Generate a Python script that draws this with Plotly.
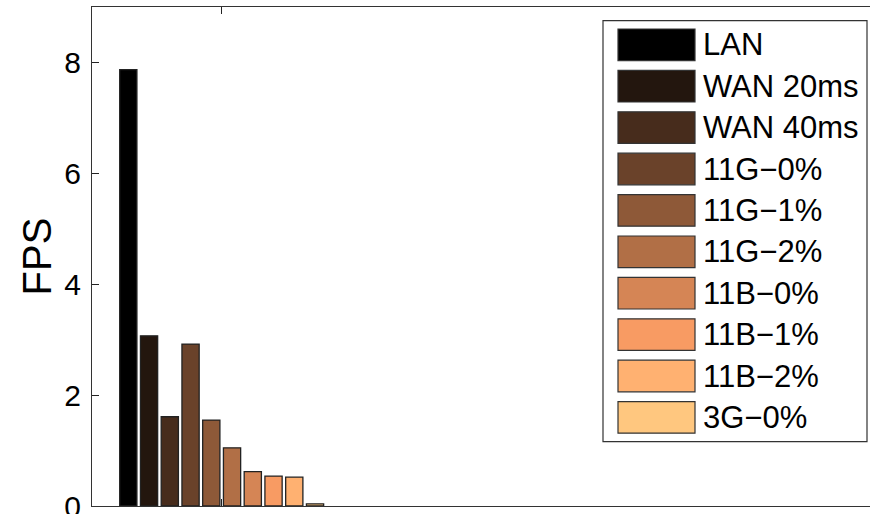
import plotly.graph_objects as go

# ---- data ----
series_names = ["LAN", "WAN 20ms", "WAN 40ms", "11G\u22120%", "11G\u22121%",
                "11G\u22122%", "11B\u22120%", "11B\u22121%", "11B\u22122%", "3G\u22120%"]
fps_values = [7.87, 3.07, 1.61, 2.92, 1.55, 1.05, 0.62, 0.54, 0.52, 0.04]
group_x = [1]
y_ticks = [0, 2, 4, 6, 8]

# MATLAB copper colormap, 10 entries
copper_colors = ["rgb(0,0,0)", "rgb(35,22,14)", "rgb(71,44,28)", "rgb(106,66,42)",
                 "rgb(142,89,56)", "rgb(177,111,70)", "rgb(213,133,85)",
                 "rgb(248,155,99)", "rgb(255,177,113)", "rgb(255,199,127)"]

FONT = "Liberation Sans, Arial, Helvetica, sans-serif"
W, H = 870, 514
ML, MR, MT, MB = 92, 0, 7, 8
PW, PH = W - ML - MR, H - MT - MB


def px_x(p):
    return (p - ML) / PW


def px_y(p):
    return (H - MB - p) / PH


fig = go.Figure()
for name, val, col in zip(series_names, fps_values, copper_colors):
    fig.add_trace(go.Bar(
        x=group_x, y=[val], name=name,
        marker=dict(color=col, line=dict(color="#222222", width=1.3)),
        showlegend=False,
    ))

# custom MATLAB-style legend (large swatches)
shapes = [dict(type="rect", xref="paper", yref="paper",
               x0=px_x(603), x1=px_x(867), y0=px_y(441.7), y1=px_y(20.7),
               line=dict(color="#333333", width=1.2), fillcolor="white", layer="above")]
annotations = []
for i, (name, col) in enumerate(zip(series_names, copper_colors)):
    top = 29 + 41.4 * i
    bot = top + 31.6
    shapes.append(dict(type="rect", xref="paper", yref="paper",
                       x0=px_x(618), x1=px_x(695), y0=px_y(bot), y1=px_y(top),
                       line=dict(color="#333333", width=1.2), fillcolor=col, layer="above"))
    annotations.append(dict(xref="paper", yref="paper", x=px_x(701), y=px_y((top + bot) / 2),
                            text=name, showarrow=False, xanchor="left", yanchor="middle",
                            font=dict(family=FONT, size=31, color="black")))

fig.update_layout(
    width=W, height=H,
    margin=dict(l=ML, r=MR, t=MT, b=MB, autoexpand=False),
    paper_bgcolor="white", plot_bgcolor="white",
    barmode="group", bargap=0.2, bargroupgap=0.17,
    font=dict(family=FONT, size=30, color="black"),
    shapes=shapes, annotations=annotations,
    xaxis=dict(range=[0.5, 3.5], tickvals=group_x, showticklabels=False,
               ticks="inside", ticklen=7, tickcolor="#222222",
               showline=True, linecolor="#333333", linewidth=1.2, mirror="ticks",
               showgrid=False, zeroline=False, automargin=False),
    yaxis=dict(range=[0, 9], tickvals=y_ticks, ticks="inside", ticklen=7,
               tickcolor="#222222", showline=True, linecolor="#333333", linewidth=1.2,
               mirror=False, showgrid=False, zeroline=False, automargin=False,
               tickfont=dict(size=30), ticklabelstandoff=4, ticklabeloverflow="allow",
               title=dict(text="FPS", font=dict(size=40), standoff=0)),
)

fig.write_html("out.html",
               config={"displayModeBar": False},
               post_script="document.body.style.margin='0';"
                           "document.body.style.overflow='hidden';")
